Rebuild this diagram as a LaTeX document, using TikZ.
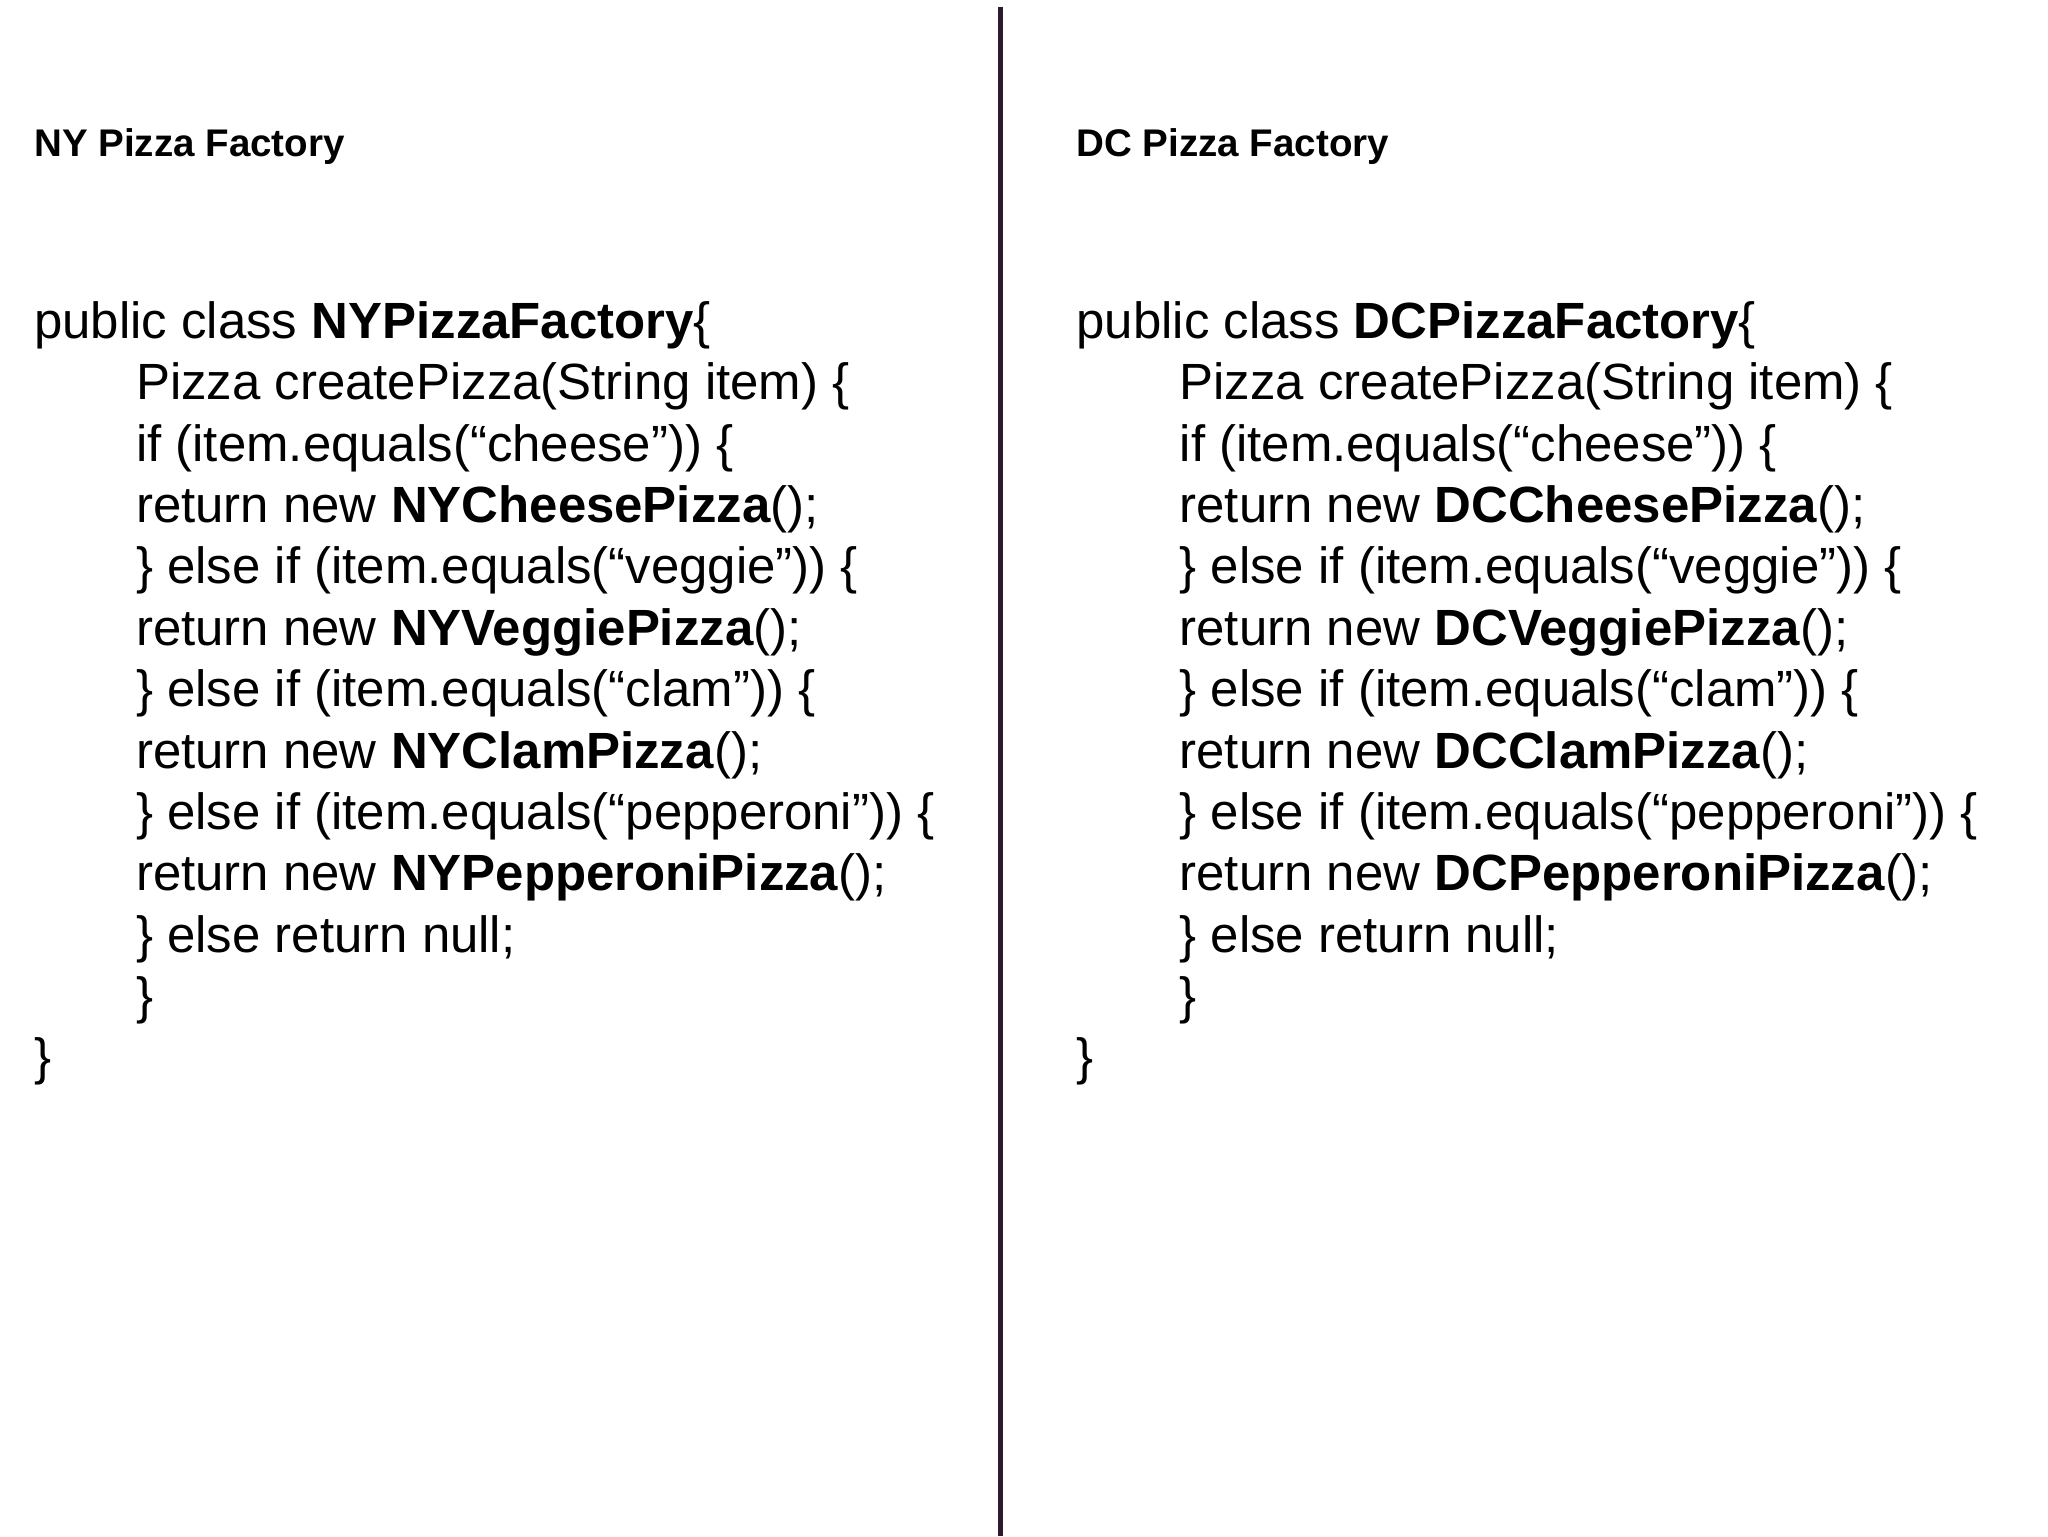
\documentclass[tikz,border=0pt]{standalone}
\usepackage{fontspec}
\setmainfont{Liberation Sans}
\definecolor{divc}{HTML}{2E1A2E}
\begin{document}
\begin{tikzpicture}[x=1pt,y=-1pt,
  code/.style={anchor=base west,inner sep=0pt,font=\fontsize{39}{39}\selectfont},
  head/.style={anchor=base west,inner sep=0pt,font=\fontsize{29.5}{30}\selectfont\bfseries}]
\useasboundingbox (0,0) rectangle (1568,1176);
\coordinate (dtop) at (766,5);
\coordinate (dbot) at (766,1176);
\draw[divc,line width=4pt] (dtop) -- (dbot);
\node[head] (h1) at (26,120) {NY Pizza Factory};
\node[head] (h2) at (824,120) {DC Pizza Factory};
\foreach \P/\X/\Y in {NY/26/104, DC/824/903}{
  \node[code] (\P l1) at (\X,259) {public class \textbf{\P PizzaFactory}\{};
  \node[code] (\P l2) at (\Y,306) {Pizza createPizza(String item) \{};
  \node[code] (\P l3) at (\Y,353) {if (item.equals(“cheese”)) \{};
  \node[code] (\P l4) at (\Y,400) {return new \textbf{\P CheesePizza}();};
  \node[code] (\P l5) at (\Y,447) {\} else if (item.equals(“veggie”)) \{};
  \node[code] (\P l6) at (\Y,494) {return new \textbf{\P VeggiePizza}();};
  \node[code] (\P l7) at (\Y,541) {\} else if (item.equals(“clam”)) \{};
  \node[code] (\P l8) at (\Y,588) {return new \textbf{\P ClamPizza}();};
  \node[code] (\P l9) at (\Y,635) {\} else if (item.equals(“pepperoni”)) \{};
  \node[code] (\P l10) at (\Y,682) {return new \textbf{\P PepperoniPizza}();};
  \node[code] (\P l11) at (\Y,729) {\} else return null;};
  \node[code] (\P l12) at (\Y,776) {\}};
  \node[code] (\P l13) at (\X,823) {\}};
}
\end{tikzpicture}
\end{document}
